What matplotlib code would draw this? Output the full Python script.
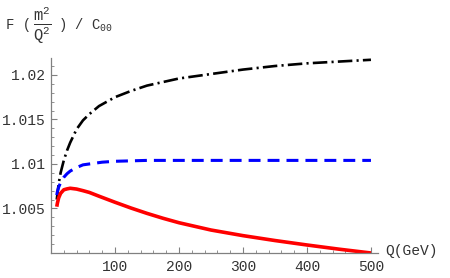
import matplotlib
matplotlib.use('Agg')
import matplotlib.pyplot as plt
from matplotlib.ticker import MultipleLocator, FixedLocator

plt.rcParams['font.family'] = ['Liberation Mono', 'DejaVu Sans Mono']
plt.rcParams['mathtext.fontset'] = 'custom'
plt.rcParams['mathtext.rm'] = 'Liberation Mono'
plt.rcParams['mathtext.it'] = 'Liberation Mono'

# values
q_black = [9, 12, 15, 20, 25, 30, 40, 50, 60, 75, 100, 125, 150, 200, 250,
           300, 350, 400, 450, 500]
f_black = [1.0060, 1.0078, 1.0090, 1.0104, 1.0115, 1.0124, 1.0139, 1.0149,
           1.0156, 1.0165, 1.0175, 1.0182, 1.0188, 1.0196, 1.0201, 1.0206,
           1.0210, 1.0213, 1.0215, 1.0217]

q_blue = [9, 10, 12, 15, 20, 25, 30, 40, 50, 60, 80, 100, 150, 200, 300, 400, 500]
f_blue = [1.0065, 1.0069, 1.0074, 1.0079, 1.0085, 1.0089, 1.0092, 1.0096,
          1.0099, 1.0100, 1.0102, 1.0103, 1.0104, 1.0104, 1.0104, 1.0104, 1.0104]

q_red = [9, 10, 11, 12, 15, 20, 25, 30, 40, 50, 60, 75, 100, 125, 150, 175,
         200, 250, 300, 350, 400, 450, 500]
f_red = [1.0052, 1.0056, 1.0059, 1.0062, 1.0067, 1.0071, 1.0072, 1.00727,
         1.00718, 1.0070, 1.0068, 1.00638, 1.0057, 1.00505, 1.00445, 1.0039,
         1.0034, 1.00258, 1.00195, 1.0014, 1.0009, 1.00043, 1.0000]

x_ticks = [100, 200, 300, 400, 500]
y_ticks = [1.005, 1.01, 1.015, 1.02]
y_labels = ['1.005', '1.01', '1.015', '1.02']

fig = plt.figure(figsize=(4.5, 2.78), dpi=100)
ax = fig.add_axes([51 / 450, 25 / 278, 327 / 450, 195 / 278])

ax.plot(q_black, f_black, color='black', lw=1.9, ls=(0, (5.5, 1.6, 0.8, 1.6)))
ax.plot(q_blue, f_blue, color='#0000ff', lw=2.2, ls=(0, (3.9, 2.3)))
ax.plot(q_red, f_red, color='#ff0000', lw=2.6, solid_capstyle='butt')

ax.set_xlim(0, 511)
ax.set_ylim(1.0, 1.0219)

for side in ['top', 'right']:
  ax.spines[side].set_visible(False)
for side in ['left', 'bottom']:
  ax.spines[side].set_color('#808080')
  ax.spines[side].set_linewidth(0.9)

ax.xaxis.set_major_locator(FixedLocator(x_ticks))
ax.xaxis.set_minor_locator(MultipleLocator(20))
ax.set_yticks(y_ticks)
ax.set_yticklabels(y_labels)
ax.yaxis.set_minor_locator(MultipleLocator(0.001))
ax.tick_params(which='both', direction='in', color='#808080', labelsize=10.5,
               labelcolor='#333333')
ax.tick_params(which='major', length=4, width=0.8)
ax.tick_params(which='minor', length=2.5, width=0.6)
ax.tick_params(axis='x', pad=5)
ax.tick_params(axis='y', pad=4)

# y axis label drawn in pieces so the fraction is full size
title_y = 1 - 25 / 278
fig.text(6 / 450, title_y, 'F (', fontsize=10, va='center', ha='left', color='#333333')
fig.text(42 / 450, title_y, r'$\frac{\mathrm{m}^2}{\mathrm{Q}^2}$', fontsize=16,
         va='center', ha='center', color='#333333')
fig.text(58 / 450, title_y, ') / C$_{00}$', fontsize=10, va='center', ha='left',
         color='#333333')
fig.text(385 / 450, 1 - 251 / 278, 'Q(GeV)', fontsize=10.5, va='center', ha='left',
         color='#333333')

fig.savefig('out.png', dpi=100)
